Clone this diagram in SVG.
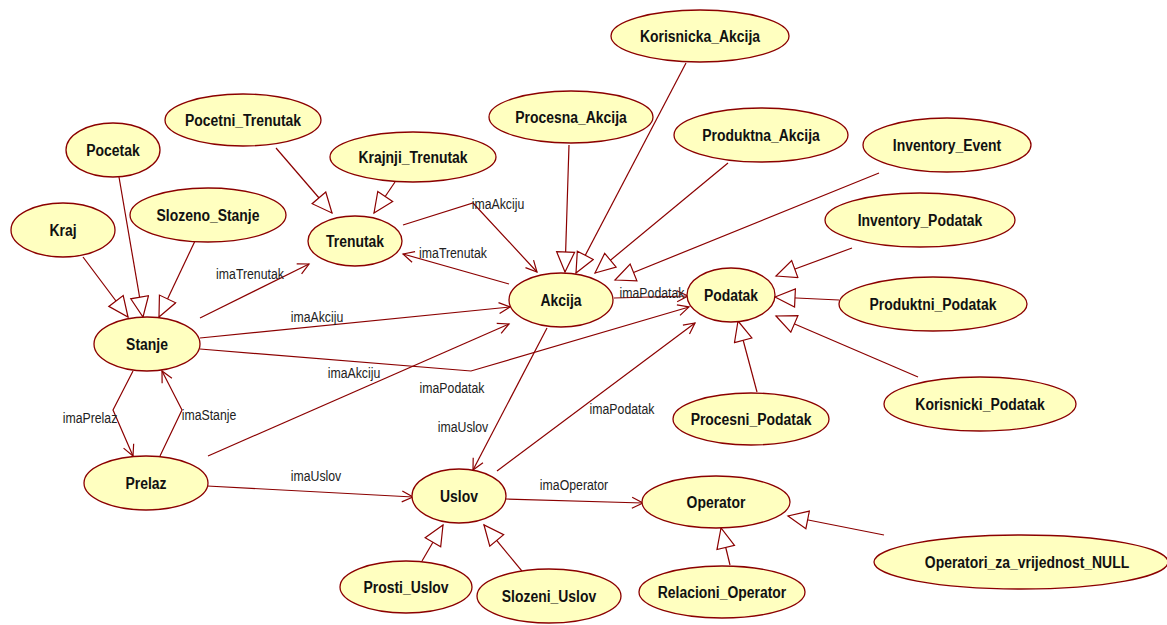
<svg xmlns="http://www.w3.org/2000/svg" width="1167" height="625" viewBox="0 0 1167 625">
<style>
.n ellipse{fill:#ffffc0;stroke:#8b0000;stroke-width:1.3}
.n text{font-family:"Liberation Sans",Arial,sans-serif;font-weight:bold;font-size:17px;fill:#111;text-anchor:middle}
#edges path{fill:none;stroke:#8b0000;stroke-width:1.2}
#edges .g{marker-end:url(#tri)}
#edges .a{marker-end:url(#open)}
#edges text{font-family:"Liberation Sans",Arial,sans-serif;font-size:15px;fill:#222;text-anchor:middle}
</style>
<defs>
<marker id="tri" markerUnits="userSpaceOnUse" markerWidth="24" markerHeight="22" refX="21" refY="10" orient="auto" viewBox="0 0 24 22">
<path d="M21,10 L1,1 L1,19 Z" fill="#fff" stroke="#8b0000" stroke-width="1.2"/>
</marker>
<marker id="open" markerUnits="userSpaceOnUse" markerWidth="14" markerHeight="14" refX="12" refY="7" orient="auto" viewBox="0 0 14 14">
<path d="M1,1.5 L12,7 L1,12.5" fill="none" stroke="#8b0000" stroke-width="1.2"/>
</marker>
</defs>
<rect width="1167" height="625" fill="#fff"/>
<g id="edges">
<!-- generalizations -->
<path class="g" d="M83,257 L128,317"/>
<path class="g" d="M119,177 L143,317"/>
<path class="g" d="M195,241 L159,317"/>
<path class="g" d="M276,148 L332,213"/>
<path class="g" d="M395,182 L374,213"/>
<path class="g" d="M569,145 L565,272"/>
<path class="g" d="M686,63 L576,273"/>
<path class="g" d="M728,163 L595,273"/>
<path class="g" d="M879,173 L615,280"/>
<path class="g" d="M852,248 L776,276"/>
<path class="g" d="M839,300 L775,297"/>
<path class="g" d="M918,377 L776,316"/>
<path class="g" d="M757,392 L738,321"/>
<path class="g" d="M422,561 L443,525"/>
<path class="g" d="M526,576 L484,525"/>
<path class="g" d="M730,565 L721,528"/>
<path class="g" d="M884,535 L788,516"/>
<!-- associations -->
<path class="a" d="M200,318 L309,264"/>
<path class="a" d="M403,225 L473,203 L537,272"/>
<path class="a" d="M509,284 L403,254"/>
<path class="a" d="M200,338 L510,307"/>
<path class="a" d="M200,349 L471,371 L689,307"/>
<path class="a" d="M208,456 L509,324"/>
<path class="a" d="M614,298 L688,296"/>
<path class="a" d="M547,328 L473,470"/>
<path class="a" d="M497,471 L695,323"/>
<path class="a" d="M207,486 L413,497"/>
<path class="a" d="M506,499 L643,503"/>
<path class="a" d="M133,371 L113,410 L133,456"/>
<path class="a" d="M160,456 L182,410 L162,371"/>
<text transform="translate(250 279) scale(0.82 1)">imaTrenutak</text>
<text transform="translate(498 209) scale(0.82 1)">imaAkciju</text>
<text transform="translate(453 258) scale(0.82 1)">imaTrenutak</text>
<text transform="translate(317 322) scale(0.82 1)">imaAkciju</text>
<text transform="translate(452 393) scale(0.82 1)">imaPodatak</text>
<text transform="translate(354 378) scale(0.82 1)">imaAkciju</text>
<text transform="translate(652 298) scale(0.82 1)">imaPodatak</text>
<text transform="translate(463 432) scale(0.82 1)">imaUslov</text>
<text transform="translate(622 414) scale(0.82 1)">imaPodatak</text>
<text transform="translate(316 481) scale(0.82 1)">imaUslov</text>
<text transform="translate(574 490) scale(0.82 1)">imaOperator</text>
<text transform="translate(90 423) scale(0.82 1)">imaPrelaz</text>
<text transform="translate(209 420) scale(0.82 1)">imaStanje</text>
</g>
<g id="Korisnicka_Akcija" class="n"><ellipse cx="700" cy="36" rx="89" ry="26"/><text transform="translate(700 42) scale(0.82 1)">Korisnicka_Akcija</text></g>
<g id="Procesna_Akcija" class="n"><ellipse cx="571" cy="117" rx="82" ry="26"/><text transform="translate(571 123) scale(0.82 1)">Procesna_Akcija</text></g>
<g id="Produktna_Akcija" class="n"><ellipse cx="761" cy="135" rx="87" ry="27"/><text transform="translate(761 141) scale(0.82 1)">Produktna_Akcija</text></g>
<g id="Inventory_Event" class="n"><ellipse cx="947" cy="145" rx="84" ry="27"/><text transform="translate(947 151) scale(0.82 1)">Inventory_Event</text></g>
<g id="Inventory_Podatak" class="n"><ellipse cx="920" cy="220" rx="95" ry="27"/><text transform="translate(920 226) scale(0.82 1)">Inventory_Podatak</text></g>
<g id="Produktni_Podatak" class="n"><ellipse cx="933" cy="304" rx="94" ry="27"/><text transform="translate(933 310) scale(0.82 1)">Produktni_Podatak</text></g>
<g id="Korisnicki_Podatak" class="n"><ellipse cx="980" cy="404" rx="96" ry="27"/><text transform="translate(980 410) scale(0.82 1)">Korisnicki_Podatak</text></g>
<g id="Podatak" class="n"><ellipse cx="731" cy="295" rx="44" ry="27"/><text transform="translate(731 301) scale(0.82 1)">Podatak</text></g>
<g id="Procesni_Podatak" class="n"><ellipse cx="751" cy="419" rx="78" ry="26"/><text transform="translate(751 425) scale(0.82 1)">Procesni_Podatak</text></g>
<g id="Akcija" class="n"><ellipse cx="561" cy="300" rx="52" ry="27"/><text transform="translate(561 306) scale(0.82 1)">Akcija</text></g>
<g id="Trenutak" class="n"><ellipse cx="355" cy="241" rx="47" ry="25"/><text transform="translate(355 247) scale(0.82 1)">Trenutak</text></g>
<g id="Krajnji_Trenutak" class="n"><ellipse cx="413" cy="157" rx="83" ry="25"/><text transform="translate(413 163) scale(0.82 1)">Krajnji_Trenutak</text></g>
<g id="Pocetni_Trenutak" class="n"><ellipse cx="243" cy="120" rx="78" ry="26"/><text transform="translate(243 126) scale(0.82 1)">Pocetni_Trenutak</text></g>
<g id="Pocetak" class="n"><ellipse cx="113" cy="150" rx="47" ry="27"/><text transform="translate(113 156) scale(0.82 1)">Pocetak</text></g>
<g id="Slozeno_Stanje" class="n"><ellipse cx="208" cy="215" rx="78" ry="27"/><text transform="translate(208 221) scale(0.82 1)">Slozeno_Stanje</text></g>
<g id="Kraj" class="n"><ellipse cx="63" cy="230" rx="52" ry="27"/><text transform="translate(63 236) scale(0.82 1)">Kraj</text></g>
<g id="Stanje" class="n"><ellipse cx="147" cy="344" rx="53" ry="27"/><text transform="translate(147 350) scale(0.82 1)">Stanje</text></g>
<g id="Prelaz" class="n"><ellipse cx="146" cy="483" rx="62" ry="27"/><text transform="translate(146 489) scale(0.82 1)">Prelaz</text></g>
<g id="Uslov" class="n"><ellipse cx="459" cy="496" rx="47" ry="27"/><text transform="translate(459 502) scale(0.82 1)">Uslov</text></g>
<g id="Operator" class="n"><ellipse cx="716" cy="502" rx="74" ry="26"/><text transform="translate(716 508) scale(0.82 1)">Operator</text></g>
<g id="Prosti_Uslov" class="n"><ellipse cx="406" cy="587" rx="66" ry="26"/><text transform="translate(406 593) scale(0.82 1)">Prosti_Uslov</text></g>
<g id="Slozeni_Uslov" class="n"><ellipse cx="549" cy="596" rx="72" ry="27"/><text transform="translate(549 602) scale(0.82 1)">Slozeni_Uslov</text></g>
<g id="Relacioni_Operator" class="n"><ellipse cx="722" cy="592" rx="83" ry="26"/><text transform="translate(722 598) scale(0.82 1)">Relacioni_Operator</text></g>
<g id="Operatori_za_vrijednost_NULL" class="n"><ellipse cx="1021" cy="562" rx="147" ry="27"/><text transform="translate(1027 568) scale(0.82 1)">Operatori_za_vrijednost_NULL</text></g>
</svg>
